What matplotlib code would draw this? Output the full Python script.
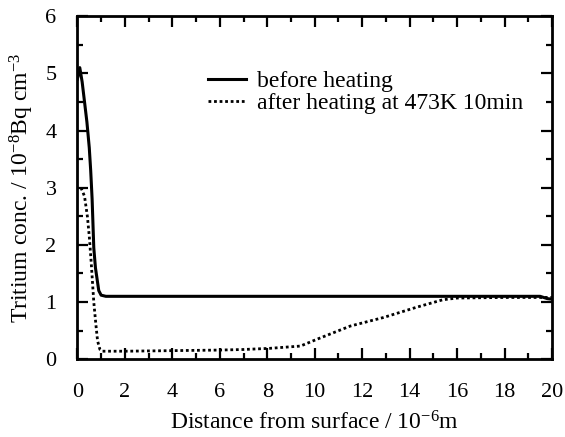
import numpy as np
import matplotlib
matplotlib.use('Agg')
import matplotlib.pyplot as plt
from matplotlib.ticker import MultipleLocator

plt.rcParams['font.family'] = ['Liberation Serif', 'DejaVu Serif']
plt.rcParams['mathtext.fontset'] = 'custom'
plt.rcParams['mathtext.rm'] = 'Liberation Serif'
plt.rcParams['mathtext.it'] = 'Liberation Serif:italic'

# depth profile before heating (distance in 1e-6 m, conc in 1e-8 Bq/cm3)
before_x = [0.0, 0.1, 0.2, 0.3, 0.4, 0.5, 0.56, 0.62, 0.69, 0.76, 0.83, 0.9, 1.0, 1.2, 2, 4, 6, 8, 10, 12, 14, 16, 18, 19.5, 19.8, 20]
before_y = [4.9, 5.1, 4.85, 4.5, 4.15, 3.7, 3.3, 2.8, 1.95, 1.6, 1.4, 1.2, 1.12, 1.1, 1.1, 1.1, 1.1, 1.1, 1.1, 1.1, 1.1, 1.1, 1.1, 1.1, 1.06, 1.05]

# after heating at 473K 10min
after_x = [0.15, 0.3, 0.42, 0.5, 0.58, 0.69, 0.78, 0.85, 0.95, 1.05, 2, 4, 6, 7, 8.1, 9.4, 10.1, 11.5, 12.9, 14.3, 15.4, 16, 18, 20]
after_y = [3.0, 2.85, 2.5, 2.15, 1.7, 1.0, 0.6, 0.32, 0.17, 0.14, 0.14, 0.15, 0.16, 0.17, 0.19, 0.23, 0.35, 0.58, 0.73, 0.91, 1.04, 1.07, 1.08, 1.08]

fig = plt.figure(figsize=(5.65, 4.37), dpi=100)
ax = fig.add_axes([0.137, 0.178, 0.84, 0.785])

ax.plot(before_x, before_y, color='black', linewidth=2.2, label='before heating')
ax.plot(after_x, after_y, color='black', linewidth=2.0, linestyle=(0, (1, 1)),
        label='after heating at 473K 10min')

ax.set_xlim(0, 20)
ax.set_ylim(0, 6)
ax.xaxis.set_major_locator(MultipleLocator(2))
ax.xaxis.set_minor_locator(MultipleLocator(1))
ax.yaxis.set_major_locator(MultipleLocator(1))
ax.yaxis.set_minor_locator(MultipleLocator(0.5))
ax.tick_params(which='both', direction='in', top=True, right=True, width=1.6)
ax.tick_params(which='major', length=8, labelsize=16)
ax.tick_params(axis='x', which='major', pad=17)
ax.tick_params(axis='y', which='major', pad=15)
ax.tick_params(which='minor', length=4.5)
for s in ax.spines.values():
    s.set_linewidth(2.0)

ax.set_xlabel('Distance from surface / 10$^{-6}$m', fontsize=17, labelpad=7)
ax.set_ylabel('Tritium conc. / 10$^{-8}$Bq cm$^{-3}$', fontsize=17, labelpad=7)

ax.legend(loc='upper left', bbox_to_anchor=(0.25, 0.875), frameon=False, fontsize=17,
          handlelength=1.6, handletextpad=0.5, labelspacing=0.0, borderpad=0)

fig.savefig('out.png', dpi=100)
